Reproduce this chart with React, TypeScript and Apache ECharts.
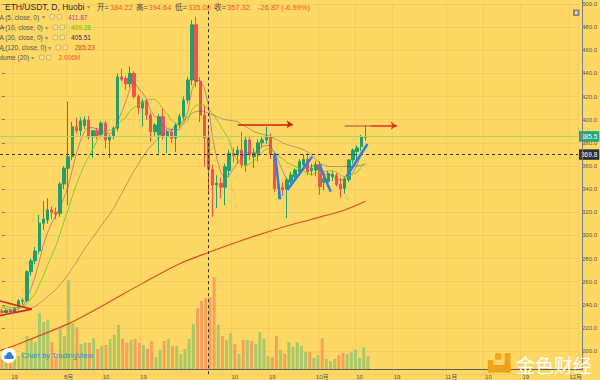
import React, { useEffect, useRef } from 'react';
import * as echarts from 'echarts';

const BG = '#fed864';
const FONT = '"Liberation Sans", "Noto Sans CJK SC", sans-serif';

const START = Date.UTC(2020, 6, 16);
const DAY_COUNT = 140;
const dates: string[] = Array.from({ length: DAY_COUNT }, (_, i) =>
  new Date(START + i * 86400000).toISOString().slice(0, 10)
);

const priorCloses = [233, 232, 229, 228, 230, 243, 244, 242, 234, 232, 228, 230, 221, 227, 228, 227, 231, 230, 226, 227, 241, 239, 242, 240, 239, 241, 238, 240, 236];

const opens = [
  234.5, 233.5, 235, 234, 238, 243, 243.8, 268.6, 278, 286.5,
  310.5, 313.3, 322, 320, 319, 344.4, 358, 368, 394, 390.5,
  395, 399.7, 385.3, 390.5, 387, 397, 382.5, 385.3, 392.6, 437,
  435.8, 431, 440, 420, 410, 415.6, 404, 389.6, 387, 402.6,
  385.3, 389.6, 384, 395.4, 402.6, 417, 434.3, 482, 433, 404,
  384.22, 357.3, 343.6, 345, 341.6, 356, 371, 369.5, 373.8, 361,
  382.5, 368, 371, 380, 382.5, 385, 370, 340.7, 341.5, 340,
  346.4, 350.7, 355, 361, 365.8, 356, 356.5, 361, 346, 346.4,
  350.7, 352, 344, 340.7, 348, 365.2, 372.5, 376.7, 384.8,
];
const closes = [
  233.5, 235, 234, 237, 243.5, 243.8, 268.6, 278, 286.5, 310.5,
  314, 322, 320, 318.5, 344.4, 358, 368, 394, 390.5, 399,
  400, 385, 390.5, 386, 397, 382.5, 385, 392.6, 437, 435,
  431, 440, 420, 410, 415.6, 404, 389.6, 395.4, 402.6, 385.3,
  389.6, 384, 395.4, 402.6, 417, 434.3, 482, 433, 404, 384.19,
  357.32, 343.6, 345, 341.6, 359.4, 371, 369, 373.8, 361, 382.5,
  369.5, 371, 380, 382.5, 385, 370, 340.7, 341.5, 339.5, 348,
  352.2, 356.5, 363.7, 365.8, 355, 358, 361, 342.1, 349, 353.6,
  353, 344, 340, 349, 365.2, 373.8, 375.7, 385.3, 385.53,
];
const highs = [
  236.5, 236, 236.5, 238, 245, 246, 270, 280, 290, 317.6,
  329.7, 332, 325, 324, 346, 360, 415.6, 398, 401.5, 402,
  403, 403, 391, 393, 399, 399, 387, 394, 440, 444,
  438, 446, 442, 422, 418, 418, 406, 397, 405, 410,
  392, 392, 397, 405, 420, 437, 486, 489, 437, 412,
  394.64, 361, 352, 350, 362, 374, 376, 377, 389.6, 385,
  386, 375, 383, 385, 394, 388, 372, 344, 346, 350,
  355, 358, 366, 370, 371, 362, 364, 364, 351, 356,
  356, 354, 350, 351, 366, 375, 378, 387, 395.4,
];
const lows = [
  232, 232.5, 233, 233, 236, 240, 242, 265, 275, 284,
  304.7, 310, 314, 314, 316, 340, 326, 365, 388, 386,
  392, 383, 366.6, 383, 385, 375, 367, 383, 390, 433,
  426, 428, 418, 405, 394, 400, 381, 386, 371, 383,
  371, 380, 372, 393, 400, 414, 430, 428, 398, 359.4,
  335, 316, 323.7, 332, 326, 350, 363, 362, 358, 355,
  365, 358, 364, 376, 379, 366, 338, 332, 334, 314.8,
  343, 347, 352, 358, 352, 352, 351, 335, 339, 342,
  347, 342, 332.8, 336, 346, 362, 366, 373, 382,
];
// volume, millions
const volumes = [
  0.33, 0.25, 0.2, 0.28, 0.36, 0.47, 0.92, 0.84, 0.75, 1.56,
  1.31, 1.37, 0.75, 0.36, 1.12, 0.92, 2.48, 1.28, 1.17, 0.7,
  0.73, 0.73, 0.86, 0.56, 0.64, 0.67, 0.84, 0.95, 1.23, 0.84,
  0.73, 0.81, 0.84, 0.73, 0.67, 0.56, 0.78, 0.33, 0.53, 0.78,
  0.84, 0.64, 0.64, 0.42, 0.56, 0.84, 1.26, 1.7, 1.9, 1.98,
  2.006, 2.57, 1.23, 0.92, 0.81, 1.0, 0.7, 0.42, 0.81, 0.81,
  0.78, 0.7, 1.03, 0.84, 0.36, 0.33, 0.92, 0.53, 0.42, 0.75,
  0.61, 0.75, 0.64, 0.47, 0.47, 0.31, 0.39, 0.86, 0.28, 0.22,
  0.28, 0.39, 0.45, 0.42, 0.47, 0.53, 0.31, 0.61, 0.36,
];
// MA(120): [day index, value]
const ma120Points = [[-0.5, 200.5], [2, 203.5], [16, 223.5], [24, 238.5], [34, 258.5], [43, 275.5], [50, 285.2], [58, 295.5], [67, 306], [75, 314], [83, 322], [88, 329.5]];

// hand-drawn annotations in [day index, price]
const blueStrokes = [
  [[66.1, 371], [67.35, 331.2]],
  [[69.1, 339.2], [75.1, 368]],
  [[76.9, 361], [79.6, 337.8]],
  [[83.4, 350.7], [88.5, 379]],
];
const triangleLines = [
  [[-0.5, 243.2], [7.2, 236.1]],
  [[-0.5, 230.8], [7.2, 236.1]],
];
const arrowTails = [[[83.0, 394.8], [89.3, 394.8]]];
const arrowLines = [
  { pts: [[57.1, 396], [70.4, 396]], color: '#dc1a0e' },
  { pts: [[89.3, 394.8], [95.6, 394.8]], color: '#e2321a' },
];

const crossIndex = 50;
const crossPrice = 369.86;
const lastPrice = 385.53;
const legendMA5 = '411.87';
const legendMA10 = '409.28';
const legendMA30 = '405.51';
const legendMA120 = '285.23';
const legendVol = '2.006M';

const UP = '#22a06b';
const DOWN = '#ef5350';
const VOL_UP = '#a7c96a';
const VOL_DOWN = '#f5a15c';
const VAL_RED = '#f0562e';

const allCloses = [...priorCloses, ...closes];
const movingAvg = (n: number) =>
  closes.map((_, i) => {
    const end = i + priorCloses.length;
    let s = 0;
    for (let k = end - n + 1; k <= end; k++) s += allCloses[k];
    return +(s / n).toFixed(2);
  });

const candleData = opens.map((o, i) => [o, closes[i], lows[i], highs[i]]);
const volumeData = volumes.map((v, i) => ({
  value: v,
  itemStyle: { color: closes[i] >= opens[i] ? VOL_UP : VOL_DOWN },
}));

const showTick = (_: number, value: string) => {
  const d = +value.slice(8);
  return (d === 1 || d === 10 || d === 19) && value !== '2020-09-01';
};
const tickText = (value: string) => {
  const d = +value.slice(8);
  const m = +value.slice(5, 7);
  return d === 1 ? `${m}月` : String(d);
};

const txt = (x: number, y: number, text: string, fill: string, fontSize: number, extra: any = {}) => ({
  type: 'text',
  x,
  y,
  silent: true,
  z: 100,
  style: { text, fill, fontSize, fontFamily: FONT, verticalAlign: 'middle', textVerticalAlign: 'middle', ...extra },
});
const box = (x: number, y: number) => ({
  type: 'rect',
  silent: true,
  z: 100,
  shape: { x, y, width: 4.5, height: 4.5, r: 0.5 },
  style: { fill: 'rgba(255,255,255,0.25)', stroke: '#c4ad70', lineWidth: 0.8 },
});

const f2 = (v: number) => v.toFixed(2);
const change = closes[crossIndex] - closes[crossIndex - 1];
const changePct = (change / closes[crossIndex - 1]) * 100;

const legendRows = [
  { y: 17, label: 'MA (5, close, 0)', arrowX: 42, boxX: 50, valX: 68, val: legendMA5, color: '#9b4f96' },
  { y: 27.5, label: 'MA (10, close, 0)', arrowX: 45, boxX: 53, valX: 71, val: legendMA10, color: '#5cc800' },
  { y: 37.7, label: 'MA (30, close, 0)', arrowX: 45, boxX: 53, valX: 71, val: legendMA30, color: '#1f2a7a' },
  { y: 47.7, label: 'MA (120, close, 0)', arrowX: 48, boxX: 56, valX: 75, val: legendMA120, color: '#e8401a' },
  { y: 57.7, label: 'Volume (20)', arrowX: 31, boxX: 39.5, valX: 58.5, val: legendVol, color: '#f5552a' },
];

const graphics: any[] = [
  { type: 'line', silent: true, z: 90, shape: { x1: 582.5, y1: 0, x2: 582.5, y2: 370 }, style: { stroke: '#7d7d7d', lineWidth: 1 } },
  txt(5, 7, 'ETH/USDT, D, Huobi', '#2b2b2b', 8.5),
  txt(87, 7, '▾', '#a08c55', 6),
  txt(97, 7, '开=', '#4a4a4a', 7.5),
  txt(110, 7, f2(opens[crossIndex]), VAL_RED, 7.5),
  txt(136, 7, '高=', '#4a4a4a', 7.5),
  txt(148.5, 7, f2(highs[crossIndex]), VAL_RED, 7.5),
  txt(175, 7, '低=', '#4a4a4a', 7.5),
  txt(188, 7, f2(lows[crossIndex]), VAL_RED, 7.5),
  txt(214, 7, '收=', '#4a4a4a', 7.5),
  txt(227, 7, f2(closes[crossIndex]), VAL_RED, 7.5),
  txt(258, 7, `${f2(change)} (${changePct.toFixed(2)}%)`, VAL_RED, 7.5),
  { type: 'rect', silent: true, z: 100, shape: { x: 573, y: 9.5, width: 6.5, height: 6.5, r: 0.6 }, style: { fill: '#858585' } },
  { type: 'rect', silent: true, z: 101, shape: { x: 575, y: 11.2, width: 2.5, height: 3 }, style: { fill: '#e8e0c8' } },
  // TradingView badge
  { type: 'circle', silent: true, z: 100, shape: { cx: 8.5, cy: 355.5, r: 7.5 }, style: { fill: '#ffffff' } },
  { type: 'circle', silent: true, z: 101, shape: { cx: 6.2, cy: 357, r: 2 }, style: { fill: '#2d7fd8' } },
  { type: 'circle', silent: true, z: 101, shape: { cx: 9.3, cy: 354.8, r: 2.8 }, style: { fill: '#2d7fd8' } },
  { type: 'circle', silent: true, z: 101, shape: { cx: 12, cy: 357, r: 1.9 }, style: { fill: '#2d7fd8' } },
  { type: 'rect', silent: true, z: 101, shape: { x: 6.2, y: 356.4, width: 5.8, height: 2.6 }, style: { fill: '#2d7fd8' } },
  txt(21.5, 355.5, 'Chart by TradingView', '#3589df', 7.5),
  // watermark logo
  { type: 'rect', silent: true, z: 100, shape: { x: 488, y: 365, width: 22.5, height: 7.5, r: 1.5 }, style: { fill: '#f0a21a' } },
  { type: 'rect', silent: true, z: 100, shape: { x: 504.5, y: 353, width: 6, height: 19.5, r: 1.5 }, style: { fill: '#f0a21a' } },
  { type: 'rect', silent: true, z: 100, shape: { x: 488, y: 360, width: 5.5, height: 12.5, r: 1 }, style: { fill: '#f0a21a' } },
  { type: 'rect', silent: true, z: 100, shape: { x: 495, y: 353.2, width: 6.5, height: 6.5, r: 1 }, style: { fill: '#f5a81e' } },
  txt(516, 364, '金色财经', '#ffffff', 19, {
    fontFamily: '"Noto Sans CJK SC", sans-serif',
    shadowColor: 'rgba(60,40,0,0.45)',
    shadowBlur: 2,
    shadowOffsetX: 1,
    shadowOffsetY: 1,
  }),
];
legendRows.forEach((r) => {
  graphics.push(txt(-6, r.y, r.label, '#555555', 6.5));
  graphics.push(txt(r.arrowX, r.y, '▾', '#a08c55', 5.5));
  graphics.push(box(r.boxX, r.y - 2.5));
  graphics.push(box(r.boxX + 7, r.y - 2.5));
  graphics.push(txt(r.valX, r.y, r.val, r.color, 6.5));
});

const option: any = {
  animation: false,
  backgroundColor: BG,
  grid: [
    { left: -2, right: 18, top: 4, bottom: 5.8 },
    { left: -2, right: 18, top: 269, bottom: 11 },
  ],
  xAxis: [
    {
      type: 'category', gridIndex: 0, data: dates, boundaryGap: true,
      axisLine: { show: false }, axisTick: { show: false }, axisLabel: { show: false },
      splitLine: { show: true, interval: showTick, lineStyle: { color: 'rgba(120,90,0,0.07)' } },
    },
    {
      type: 'category', gridIndex: 1, data: dates, boundaryGap: true,
      axisLine: { show: true, lineStyle: { color: '#5a5a5a', width: 1 } },
      axisTick: { show: false },
      axisLabel: { interval: showTick, formatter: tickText, fontSize: 6, color: '#555', margin: 5, fontFamily: FONT },
      splitLine: { show: false },
    },
    { type: 'value', gridIndex: 0, min: -0.5, max: DAY_COUNT - 0.5, show: false },
  ],
  yAxis: [
    {
      type: 'value', gridIndex: 0, position: 'right', min: 180, max: 500, interval: 20,
      axisLine: { show: false },
      axisTick: { show: true, length: 3, lineStyle: { color: '#7d7d7d' } },
      axisLabel: { formatter: (v: number) => v.toFixed(1), fontSize: 6, color: '#555', margin: 4, showMinLabel: false, fontFamily: FONT },
      splitLine: { show: true, lineStyle: { color: 'rgba(120,90,0,0.07)' } },
    },
    { type: 'value', gridIndex: 1, min: 0, max: 2.79, show: false },
  ],
  series: [
    {
      type: 'bar', name: 'Volume', xAxisIndex: 1, yAxisIndex: 1, data: volumeData, barWidth: '72%',
      markLine: {
        silent: true, symbol: ['none', 'none'], animation: false,
        lineStyle: { opacity: 0 },
        data: [{
          xAxis: dates[crossIndex],
          label: {
            show: true, position: 'start', formatter: dates[crossIndex], distance: 2,
            backgroundColor: '#363a45', color: '#ffffff', fontSize: 6.5, padding: [2, 3], fontFamily: FONT,
          },
        }],
      },
    },
    {
      type: 'candlestick', name: 'ETH/USDT', xAxisIndex: 0, yAxisIndex: 0, data: candleData, barWidth: '70%',
      itemStyle: { color: UP, color0: DOWN, borderColor: UP, borderColor0: DOWN, borderWidth: 1 },
      markLine: {
        silent: true, symbol: ['none', 'none'], animation: false,
        data: [
          {
            yAxis: lastPrice,
            lineStyle: { color: '#a9d46a', type: 'solid', width: 1 },
            label: { show: true, position: 'end', distance: 1, formatter: '385.5', backgroundColor: '#1fa77a', color: '#fff', fontSize: 6.5, padding: [2, 2], fontFamily: FONT },
          },
          {
            yAxis: crossPrice,
            lineStyle: { color: '#333', type: [3, 3], width: 1 },
            label: { show: true, position: 'end', distance: 1, formatter: '369.8', backgroundColor: '#2a2e39', color: '#fff', fontSize: 6.5, padding: [2, 2], fontFamily: FONT },
          },
          {
            xAxis: dates[crossIndex],
            lineStyle: { color: '#333', type: [3, 3], width: 1 },
            label: { show: false },
          },
        ],
      },
    },
    { type: 'line', name: 'MA5', xAxisIndex: 0, yAxisIndex: 0, data: movingAvg(5), showSymbol: false, lineStyle: { color: 'rgba(155,79,150,0.6)', width: 1 } },
    { type: 'line', name: 'MA10', xAxisIndex: 0, yAxisIndex: 0, data: movingAvg(10), showSymbol: false, lineStyle: { color: 'rgba(110,205,20,0.85)', width: 1 } },
    { type: 'line', name: 'MA30', xAxisIndex: 0, yAxisIndex: 0, data: movingAvg(30), showSymbol: false, lineStyle: { color: 'rgba(40,40,120,0.35)', width: 1 } },
    { type: 'line', name: 'MA120', xAxisIndex: 2, yAxisIndex: 0, data: ma120Points, showSymbol: false, smooth: 0.3, lineStyle: { color: '#e04a1e', width: 1.1 } },
    {
      type: 'lines', coordinateSystem: 'cartesian2d', xAxisIndex: 2, yAxisIndex: 0, z: 6, symbol: ['none', 'none'],
      data: [
        ...blueStrokes.map((c) => ({ coords: c, lineStyle: { color: '#2f7fe0', width: 2.5, opacity: 1 } })),
        ...triangleLines.map((c) => ({ coords: c, lineStyle: { color: '#d2241a', width: 1.5, opacity: 1 } })),
        ...arrowTails.map((c) => ({ coords: c, lineStyle: { color: '#c47a36', width: 1.5, opacity: 1 } })),
      ],
    },
    {
      type: 'lines', coordinateSystem: 'cartesian2d', xAxisIndex: 2, yAxisIndex: 0, z: 6,
      symbol: ['none', 'arrow'], symbolSize: 6,
      data: arrowLines.map((a) => ({ coords: a.pts, lineStyle: { color: a.color, width: 1.5, opacity: 1 } })),
    },
  ],
  graphic: graphics,
};

export default function App() {
  const ref = useRef<HTMLDivElement>(null);
  useEffect(() => {
    const chart = echarts.init(ref.current as HTMLDivElement, null, { renderer: 'svg' });
    chart.setOption(option);
    return () => chart.dispose();
  }, []);
  return (
    <div
      ref={ref}
      style={{ position: 'absolute', left: 0, top: 0, width: 600, height: 380, background: BG }}
    />
  );
}
